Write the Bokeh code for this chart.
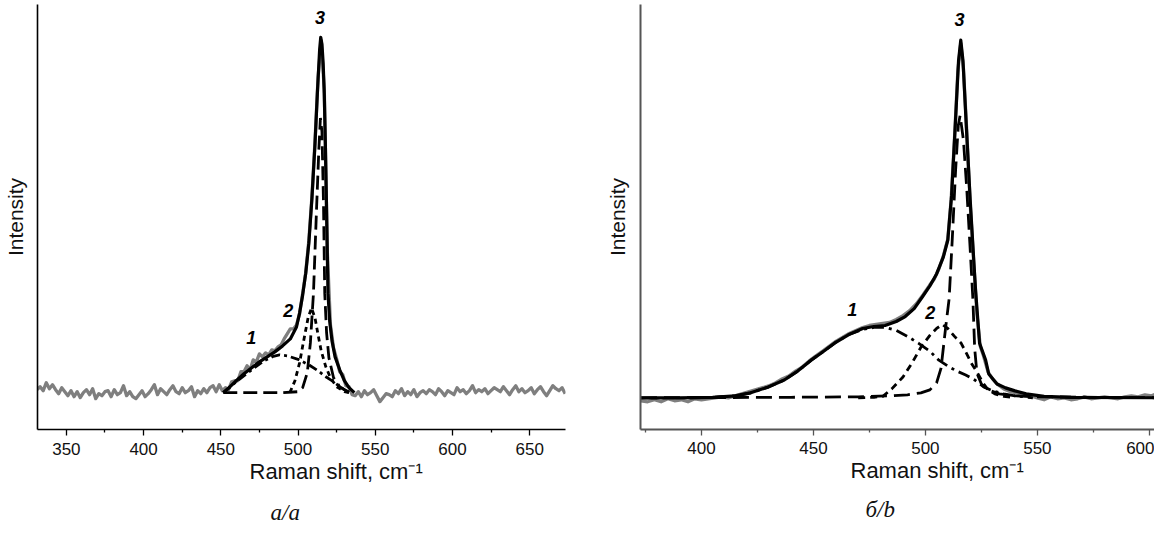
from bokeh.plotting import figure
from bokeh.layouts import row
from bokeh.models import FixedTicker, Title
from bokeh.core.properties import value
from bokeh.embed import file_html
from bokeh.resources import INLINE

# ---------------- panel a/a ----------------
a_exp_x = [331, 333, 335, 337, 339, 341, 343, 345, 347, 349, 351, 353, 355, 357, 359, 361, 363, 365, 367, 369,
           371, 373, 375, 377, 379, 381, 383, 385, 387, 389, 391, 393, 395, 397, 399, 401, 403, 405, 407, 409,
           411, 413, 415, 417, 419, 421, 423, 425, 427, 429, 431, 433, 435, 437, 439, 441, 443, 445, 447, 449,
           451, 453, 455, 457, 459, 461, 463, 465, 467, 469, 471, 473, 475, 477, 479, 481, 483, 485, 487, 489,
           491, 493, 495, 497, 499, 501, 503, 505, 507, 509, 511, 513, 515, 517, 519, 521, 523, 525, 527, 529,
           531, 533, 535, 537, 539, 541, 543, 545, 547, 549, 551, 553, 555, 557, 559, 561, 563, 565, 567, 569,
           571, 573, 575, 577, 579, 581, 583, 585, 587, 589, 591, 593, 595, 597, 599, 601, 603, 605, 607, 609,
           611, 613, 615, 617, 619, 621, 623, 625, 627, 629, 631, 633, 635, 637, 639, 641, 643, 645, 647, 649,
           651, 653, 655, 657, 659, 661, 663, 665, 667, 669, 671, 673]
a_exp_y = [3, 6, 2, 10, 4, 8, 3, -1, 5, 1, -3, 2, -4, 1, -5, 0, 3, -2, 4, -6,
           -1, -3, 1, 2, -4, 3, -2, 0, 7, -3, 1, -4, -6, -2, 2, -4, -1, 3, 8, -2,
           4, 1, -2, 3, 7, 1, -1, 5, 0, 2, 6, -4, 2, -1, 4, 0, 5, 7, 1, 8,
           2, 5, 3, 11, 12, 12, 21, 21, 27, 23, 33, 31, 39, 36, 40, 38, 43, 42, 46, 48,
           54, 59, 64, 64, 68, 79, 100, 121, 153, 197, 253, 317, 354, 305, 141, 68, 45, 34, 21, 18,
           7, 6, -2, -3, 1, -4, 2, -2, 0, 3, -3, -9, -5, -1, -2, -4, 2, -1, 4, -3,
           1, -2, 3, -4, 0, 2, -1, 3, 1, -2, 4, 1, -3, 2, 0, -2, 5, 1, 3, -1,
           2, 7, 0, 3, 1, 4, -1, 2, 5, 3, 1, 6, 2, -2, 3, 7, 1, 4, 0, 2,
           5, -1, 3, 6, 1, -3, 2, 7, 4, 2, 5, -1]
a_fit_x = [451.6, 456, 460, 465, 470, 475, 480, 485, 490, 495, 499, 501, 503, 505, 507, 509, 511, 512.5, 514, 514.7,
           515.5, 516.3, 517, 517.7, 518.3, 519.4, 520.5, 522, 524, 527, 530, 533, 536.5]
a_fit_y = [0, 6, 12, 19, 25, 31, 36, 41, 47, 54, 66, 80, 98, 120, 150, 195, 250, 300, 345, 357,
           350, 330, 300, 250, 200, 100, 72, 52, 36, 23, 12, 5, 0]
a_p1_x = [451.6, 460, 470, 478, 484, 488, 493, 500, 507, 513, 518, 523, 528, 533]
a_p1_y = [0, 11, 23, 32, 36.5, 38, 37, 33.5, 28, 22, 16, 11, 5, 0]
a_p2_x = [494.7, 498, 501, 504, 506.5, 508.7, 511, 513, 515, 518, 521, 525, 530, 533]
a_p2_y = [0, 12, 30, 55, 75, 85, 75, 58, 42, 26, 15, 6, 1, 0]
a_p3_x = [451.6, 470, 490, 500, 503, 506, 508, 510, 512, 513.5, 514.5, 515.5, 516.5, 517.3, 518.5, 520, 523, 527, 531, 535]
a_p3_y = [0, 0, 0, 1, 5, 20, 50, 100, 185, 245, 276, 262, 190, 100, 60, 35, 15, 6, 2, 0]
a_lbl_x = [469.7, 493.6, 514.2]
a_lbl_y = [55, 83, 377]
a_lbl = ["1", "2", "3"]
a_ticks = [350, 400, 450, 500, 550, 600, 650]
a_minor = [375, 425, 475, 525, 575, 625]
a_xtitle = "Raman shift, cm\u207b\u00b9"
a_caption = "\u0430/a"

# ---------------- panel б/b ----------------
b_exp_x = [373, 376, 379, 382, 385, 388, 391, 394, 397, 400, 403, 406, 409, 412, 415, 418, 421, 424, 427, 430,
           433, 436, 439, 442, 445, 448, 451, 454, 457, 460, 463, 466, 469, 472, 475, 478, 481, 484, 487, 490,
           493, 496, 499, 502, 504, 506, 508, 510, 511.5, 513, 514.5, 515.8, 517, 518.5, 520, 521.5, 523, 524.5, 526, 528,
           530, 532, 535, 538, 541, 544, 547, 550, 553, 556, 559, 562, 565, 568, 571, 574, 577, 580, 583, 586,
           589, 592, 595, 598, 601, 604, 606]
b_exp_y = [-3, -4, -2, -4, -1, -3, -2, -4, -1, -2, -1, 0, 1, 0, 2, 4, 6, 8, 10, 12,
           15, 19, 22, 27, 31, 37, 42, 47, 52, 57, 61, 65, 68, 71, 73, 74, 75, 76, 79, 83,
           88, 95, 104, 114, 120, 130, 143, 160, 200, 262, 330, 358, 332, 268, 196, 140, 85, 52, 42, 26,
           19, 14, 9, 6, 5, 3, 2, 0, -2, 1, -1, 0, -2, -1, 1, -1, 0, 1, 0, -1,
           1, 2, 1, 3, 2, 5, 4]
b_fit_x = [373, 390, 405, 415, 422, 430, 437, 443, 449, 454, 460, 466, 472, 477, 482, 487, 491, 495, 498.7, 502,
           505, 508, 510, 511.7, 513.3, 514.8, 515.8, 516.8, 518.3, 520, 521.7, 522.4, 524.2, 526.9, 528.3, 532, 535.8, 540, 545, 553,
           565, 606]
b_fit_y = [0, 0, 0.5, 2, 5, 11, 18, 27, 38, 46, 56, 64, 70, 72, 73, 77, 82, 90, 102, 113,
           125, 142, 159, 204, 273, 340, 361, 340, 273, 200, 135, 109, 55, 38, 24, 14, 10, 7, 4, 1.5,
           0.5, 0]
b_p1_x = [395, 405, 415, 422, 430, 437, 443, 449, 454, 460, 466, 472, 477, 482, 487, 492, 497, 502, 506, 510,
          514, 518, 522, 526, 530, 535, 540, 548]
b_p1_y = [0, 0.5, 2, 5, 11, 18, 27, 38, 46, 56, 64, 69, 71, 71, 68, 62, 55, 47, 38, 32,
          27, 23, 18, 11, 7, 4, 2, 0]
b_p2_x = [470, 477, 481, 485, 490, 494, 498, 502, 505, 507.6, 510, 513, 516, 518.3, 520.5, 523.3, 526, 528, 531, 535, 540]
b_p2_y = [0, 0.5, 1.5, 9, 21, 35, 51, 63, 70, 74, 70, 62, 55, 45, 35, 25, 14, 8, 4, 1.5, 0]
b_p3_x = [373, 440, 470, 485, 492, 498, 502, 505, 507, 509, 510.6, 512, 513.5, 514.7, 515.5, 517, 518.5, 520, 521.2, 522,
          523, 525, 528, 533, 540, 550, 606]
b_p3_y = [0, 0.5, 1, 2, 3, 5, 8, 15, 30, 70, 100, 160, 230, 275, 285, 260, 210, 150, 100, 50,
          25, 14, 8, 4, 2, 1, 0]
b_lbl_x = [467.4, 502.2, 515.2]
b_lbl_y = [89, 86, 382]
b_lbl = ["1", "2", "3"]
b_ticks = [400, 450, 500, 550, 600]
b_minor = [375, 425, 475, 525, 575]
b_xtitle = "Raman shift, cm\u207b\u00b9"
b_caption = "\u0431/b"

SANS = "Liberation Sans"
SERIF = "Liberation Serif"


def panel(width, xr, yr, borders, ticks, minor, axis_color, axis_w, dash, data, lbls,
          tick_standoff, ylab_standoff, xtitle, xtitle_offset, gap, caption, caption_offset):
    bl, br, bt, bb = borders
    p = figure(width=width, height=530, x_range=xr, y_range=yr, output_backend="svg",
               toolbar_location=None, min_border_left=bl, min_border_right=br,
               min_border_top=bt, min_border_bottom=bb)
    p.grid.visible = False
    p.outline_line_color = None
    p.background_fill_color = "white"
    p.border_fill_color = "white"

    ex, ey, fx, fy, c1x, c1y, c2x, c2y, c3x, c3y = data
    p.line(ex, ey, line_color="#7f7f7f", line_width=3.3, line_join="round")
    p.line(c1x, c1y, line_color="black", line_width=2.8, line_dash=dash[0])
    p.line(c2x, c2y, line_color="black", line_width=2.8, line_dash=dash[1])
    p.line(c3x, c3y, line_color="black", line_width=2.8, line_dash=dash[2])
    p.line(fx, fy, line_color="black", line_width=3.2, line_join="round")

    lx, ly, lt = lbls
    p.text(x=lx, y=ly, text=lt, text_font=value(SANS), text_font_style="bold italic",
           text_font_size="18px", text_align="center", text_baseline="middle", text_color="black")

    xa = p.xaxis[0]
    xa.ticker = FixedTicker(ticks=ticks, minor_ticks=minor)
    xa.axis_line_color = axis_color
    xa.axis_line_width = axis_w
    xa.major_tick_line_color = axis_color
    xa.minor_tick_line_color = axis_color
    xa.major_tick_line_width = 1.3
    xa.minor_tick_line_width = 1.3
    xa.major_tick_in = 0
    xa.major_tick_out = 6
    xa.minor_tick_in = 0
    xa.minor_tick_out = 3
    xa.major_label_standoff = tick_standoff
    xa.major_label_text_font = SANS
    xa.major_label_text_font_size = "17px"
    xa.major_label_text_color = "#111111"

    ya = p.yaxis[0]
    ya.ticker = FixedTicker(ticks=[])
    ya.axis_line_color = axis_color
    ya.axis_line_width = axis_w
    ya.major_tick_out = 0
    ya.major_tick_in = 0
    ya.minor_tick_out = 0
    ya.minor_tick_in = 0
    ya.major_label_standoff = 0
    ya.axis_label = "Intensity"
    ya.axis_label_text_font = SANS
    ya.axis_label_text_font_size = "21px"
    ya.axis_label_text_font_style = "normal"
    ya.axis_label_text_color = "#111111"
    ya.axis_label_standoff = ylab_standoff

    # x-axis title (below the tick labels)
    t1 = Title(text=xtitle, align="left", offset=xtitle_offset, vertical_align="middle",
               text_font=SANS, text_font_size="22px", text_font_style="normal",
               text_color="#111111", standoff=1)
    p.add_layout(t1, "below")
    # blank spacer between the axis title and the caption
    sp = Title(text=" ", align="left", vertical_align="middle", text_font=SANS,
               text_font_size="1px", standoff=gap)
    p.add_layout(sp, "below")
    t2 = Title(text=caption, align="left", offset=caption_offset, vertical_align="middle",
               text_font=SERIF, text_font_size="23px", text_font_style="italic",
               text_color="#111111", standoff=0)
    p.add_layout(t2, "below")
    return p


pa = panel(600, (331.3, 673.2), (-37, 390), (35, 35, 2, 101), a_ticks, a_minor, "black", 1.6,
           ("9 4 3 4", "5 4", "14 6"),
           (a_exp_x, a_exp_y, a_fit_x, a_fit_y, a_p1_x, a_p1_y, a_p2_x, a_p2_y, a_p3_x, a_p3_y),
           (a_lbl_x, a_lbl_y, a_lbl), 7, 11, a_xtitle, 212, 10, a_caption, 233)
pb = panel(554, (372.8, 602.3), (-32, 397), (40, 0, 4, 97), b_ticks, b_minor, "#555555", 2.0,
           ("12 5 3 5", "7 5", "16 7"),
           (b_exp_x, b_exp_y, b_fit_x, b_fit_y, b_p1_x, b_p1_y, b_p2_x, b_p2_y, b_p3_x, b_p3_y),
           (b_lbl_x, b_lbl_y, b_lbl), 6, 12, b_xtitle, 210, 7.5, b_caption, 225)

layout = row(pa, pb)
open("out.html", "w").write(file_html(layout, INLINE))
